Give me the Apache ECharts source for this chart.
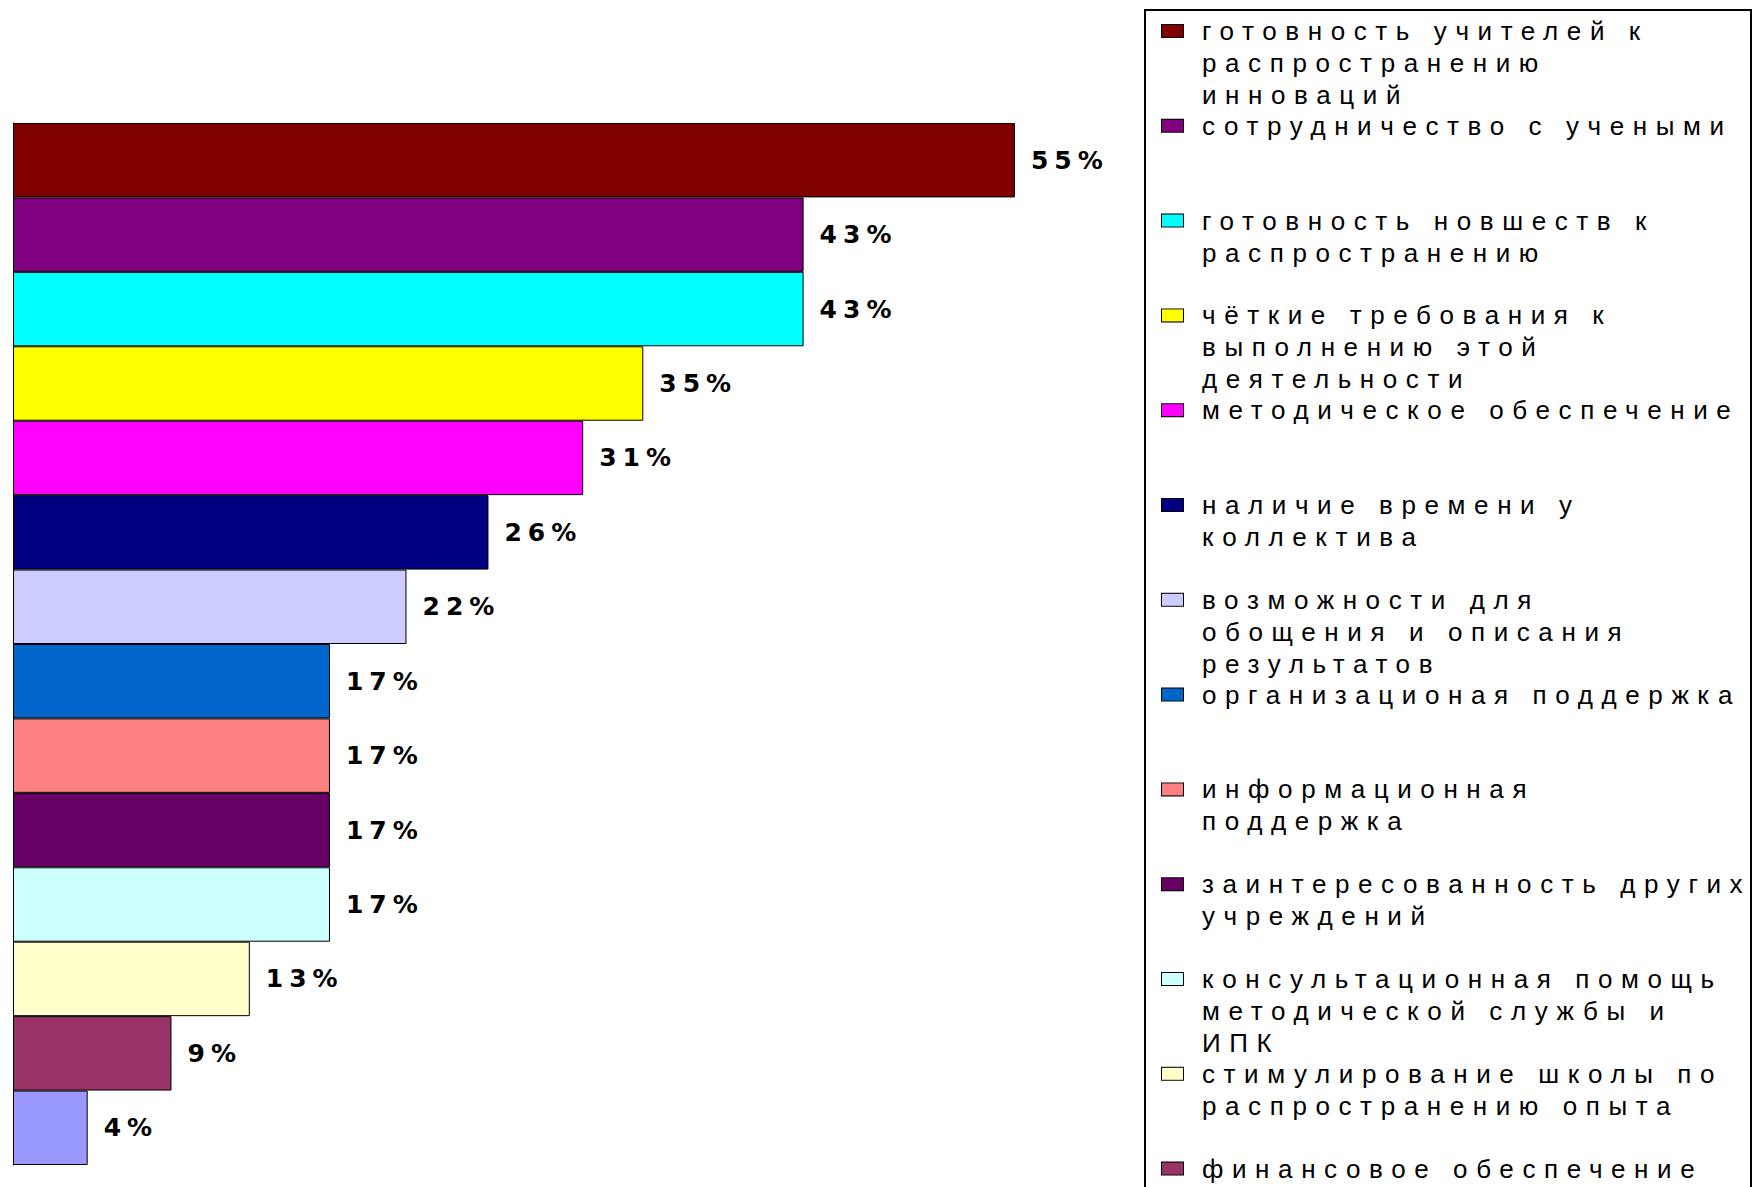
<!DOCTYPE html>
<html>
<head>
<meta charset="utf-8">
<script src="https://cdn.jsdelivr.net/npm/echarts@6/dist/echarts.min.js"></script>
<style>
  html, body { margin: 0; padding: 0; background: #fff; }
  #chart { width: 1752px; height: 1187px; }
  #chart text[style*="Liberation"] { letter-spacing: 8.6px; }
  #chart text[style*="DejaVu"] { letter-spacing: 6px; }
</style>
</head>
<body>
<div id="chart"></div>
<script>
const categories = [
  'готовность учителей к\nраспространению\nинноваций',
  'сотрудничество с учеными',
  'готовность новшеств к\nраспространению',
  'чёткие требования к\nвыполнению этой\nдеятельности',
  'методическое обеспечение',
  'наличие времени у\nколлектива',
  'возможности для\nобощения и описания\nрезультатов',
  'организационая поддержка',
  'информационная\nподдержка',
  'заинтересованность других\nучреждений',
  'консультационная помощь\nметодической службы и\nИПК',
  'стимулирование школы по\nраспространению опыта',
  'финансовое обеспечение',
  'прочее'
];
// bar lengths (labels show them rounded)
const values = [55, 43.4, 43.4, 34.6, 31.3, 26.1, 21.6, 17.4, 17.4, 17.4, 17.4, 13, 8.7, 4.1];
const colors = [
  '#800000', '#800080', '#00FFFF', '#FFFF00', '#FF00FF', '#000080', '#CCCCFF',
  '#0066CC', '#FF8080', '#660066', '#CCFFFF', '#FFFFCC', '#993366', '#9999FF'
];

const chart = echarts.init(document.getElementById('chart'), null, { renderer: 'svg' });

const LH = 32;
const rich = {
  t: { fontFamily: 'Liberation Sans', fontSize: 26, color: '#000', lineHeight: LH, width: 549 },
  g: { width: 19, lineHeight: LH },
  s: { width: 40, lineHeight: LH }
};
colors.forEach((c, i) => {
  rich['m' + i] = { width: 21, height: 12, backgroundColor: c, borderColor: '#000', borderWidth: 1, lineHeight: LH };
});

const series = categories.map((name, i) => ({
  type: 'bar',
  name: name,
  data: categories.map((_, j) => (j === i ? values[i] : '-')),
  barGap: '-100%',
  barCategoryGap: 0,
  itemStyle: { color: colors[i], borderColor: '#000', borderWidth: 1 },
  label: {
    show: true,
    position: 'right',
    distance: 16,
    formatter: p => Math.round(p.value) + '%',
    color: '#000',
    fontFamily: 'DejaVu Sans',
    fontWeight: 'bold',
    fontSize: 25
  }
}));

chart.setOption({
  backgroundColor: '#fff',
  animation: false,
  grid: { left: 13, right: 646, top: 123, bottom: 22 },
  xAxis: { type: 'value', min: 0, max: 60, show: false },
  yAxis: {
    type: 'category',
    data: categories,
    inverse: true,
    axisLine: { show: true, lineStyle: { color: '#000', width: 1 } },
    axisTick: { show: false },
    axisLabel: { show: false },
    splitLine: { show: false }
  },
  legend: {
    orient: 'vertical',
    left: 1145,
    top: 10,
    height: 3000,
    padding: [8, 0, 10, 12],
    itemWidth: 0,
    itemHeight: 0,
    icon: 'none',
    itemGap: 4.8,
    borderColor: '#000',
    borderWidth: 2,
    selectedMode: false,
    data: categories,
    formatter: function (name) {
      const i = categories.indexOf(name);
      const lines = name.split('\n');
      while (lines.length < 3) lines.push(' ');
      return lines.map((l, k) => (k === 0 ? '{m' + i + '|}{g|}' : '{s|}') + '{t|' + l + '}').join('\n');
    },
    textStyle: { rich: rich }
  },
  series: series
});
</script>
</body>
</html>
